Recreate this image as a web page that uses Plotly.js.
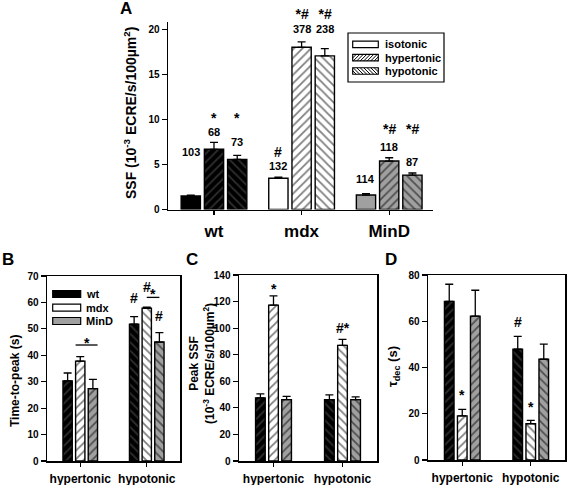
<!DOCTYPE html>
<html><head><meta charset="utf-8">
<script src="https://cdn.plot.ly/plotly-3.0.1.min.js"></script>
<style>html,body{margin:0;padding:0;background:#fff}#chart{width:567px;height:485px}</style>
</head><body><div id="chart"></div>
<script>
// ================= DATA =================
const genotypes = ["wt", "mdx", "MinD"];
const tonicities = ["isotonic", "hypertonic", "hypotonic"];
const conditions = ["hypertonic", "hypotonic"];

// Panel A: SSF (10^-3 ECRE/s/100 µm²), per genotype
const ssfIso = [1.50, 3.47, 1.61];
const ssfIsoErr = [0.10, 0.14, 0.16];
const ssfHyper = [6.70, 18.05, 5.39];
const ssfHyperErr = [0.78, 0.60, 0.37];
const ssfHypo = [5.58, 17.10, 3.83];
const ssfHypoErr = [0.44, 0.80, 0.23];
const nIso = [103, 132, 114];
const nHyper = [68, 378, 118];
const nHypo = [73, 238, 87];
const sigIso = ["", "#", ""];
const sigHyper = ["*", "*#", "*#"];
const sigHypo = ["*", "*#", "*#"];

// Panel B: time-to-peak (s), per condition
const ttpWt = [30.3, 51.8];   const ttpWtErr = [3.0, 2.8];
const ttpMdx = [37.8, 57.8];  const ttpMdxErr = [1.7, 0.4];
const ttpMinD = [27.4, 45.0]; const ttpMinDErr = [3.5, 3.6];
const ttpSigWt = ["", "#"];
const ttpSigMdx = ["", "#"];
const ttpSigMinD = ["", "#"];
const ttpSigMdxVsMinD = ["*", "*"];

// Panel C: peak SSF (10^-3 ECRE/s/100 µm²)
const pkWt = [47.5, 46.2];   const pkWtErr = [3.0, 3.5];
const pkMdx = [117.3, 87.0]; const pkMdxErr = [7.0, 4.5];
const pkMinD = [46.2, 46.2]; const pkMinDErr = [2.4, 2.0];
const pkSigMdx = ["*", "#*"];

// Panel D: tau decay (s)
const tauWt = [68.6, 47.9];   const tauWtErr = [7.4, 5.6];
const tauMdx = [19.1, 15.7];  const tauMdxErr = [2.8, 1.4];
const tauMinD = [62.2, 43.6]; const tauMinDErr = [11.2, 6.5];
const tauSigWt = ["", "#"];
const tauSigMdx = ["*", "*"];

// ================= STYLE / LAYOUT HELPERS =================
const W = 567, H = 485;
const FONT = "Liberation Sans, Arial, Helvetica, sans-serif";
const px = v => v / W;
const py = v => 1 - v / H;
const fillCol = {wt: "#000000", mdx: "#ffffff", MinD: "#a0a0a0"};
const hatchCol = {wt: "#5e5e5e", mdx: "#000000", MinD: "#000000"};
const hatchOf = {isotonic: "", hypertonic: "/", hypotonic: "\\"};

const geo = {
  A: {x: [168, 433], y: [21.7, 209.5]},
  B: {x: [47, 180], y: [276, 461]},
  C: {x: [239, 377], y: [275, 461]},
  D: {x: [428, 565], y: [275, 460]}
};
const domX = g => [px(g.x[0]), px(g.x[1])];
const domY = g => [py(g.y[1]), py(g.y[0])];

function xAxis(g, cats, range, size, boxed, anchor) {
  return {domain: domX(g), anchor: anchor, type: 'category', categoryorder: 'array',
    categoryarray: cats, range: range, showline: true, linecolor: '#000', linewidth: 1.5,
    mirror: boxed, ticks: 'outside', ticklen: 4, tickwidth: 1.2, tickcolor: '#000',
    ticklabelstandoff: 2,
    tickfont: {family: FONT, size: size, color: '#000', weight: 'bold'},
    showgrid: false, zeroline: false, fixedrange: true};
}
function yAxis(g, range, dtick, boxed, anchor) {
  return {domain: domY(g), anchor: anchor, range: range, dtick: dtick, tick0: 0,
    showline: true, linecolor: '#000', linewidth: 1.5, mirror: boxed,
    ticks: 'outside', ticklen: 5, tickwidth: 1.2, tickcolor: '#000',
    tickfont: {family: FONT, size: 10, color: '#000', weight: 'bold'},
    showgrid: false, zeroline: false, fixedrange: true};
}

const PAT = {size: 6, solidity: 0.3};
// one trace per genotype: scalar colours, per-point hatch shape and offset
function barTrace(x, y, err, xa, ya, offset, width, bg, fg, shapes) {
  const marker = {color: bg, line: {color: '#000', width: 1.4},
    pattern: {shape: shapes, bgcolor: bg, fgcolor: fg, fillmode: 'overlay',
      size: PAT.size, solidity: PAT.solidity}};
  return {type: 'bar', x: x, y: y, xaxis: xa, yaxis: ya, offset: offset, width: width,
    marker: marker, showlegend: false, hoverinfo: 'skip',
    error_y: {type: 'data', symmetric: false, array: err, arrayminus: err.map(() => 0),
      color: '#000', thickness: 1.3, width: 4}};
}

function lab(xref, yref, x, y, text, size, shift, anchor) {
  return {xref: xref, yref: yref, x: x, y: y, text: text, showarrow: false,
    xanchor: 'center', yanchor: anchor || 'middle', yshift: shift,
    font: {family: FONT, size: size, color: '#000', weight: 'bold'}};
}
const glyphAdj = t => (t === "*" ? -2.5 : (t.indexOf("*") >= 0 ? -1 : 0));

const traces = [];
const annotations = [];
const shapes = [];

// ---------- Panel A ----------
const wA = 0.22;
const offA = {isotonic: -0.375, hypertonic: -0.11, hypotonic: 0.155};
const seriesA = {
  isotonic: {v: ssfIso, e: ssfIsoErr, n: nIso, s: sigIso},
  hypertonic: {v: ssfHyper, e: ssfHyperErr, n: nHyper, s: sigHyper},
  hypotonic: {v: ssfHypo, e: ssfHypoErr, n: nHypo, s: sigHypo}
};
// label lifts (px above the error-bar tip); stacked = symbol directly on top of the n label
const shiftA = {
  isotonic: {n: [43.4, 10.9, 14.4], s: [0, 25.2, 0], stack: [false, false, false]},
  hypertonic: {n: [10.5, 11.6, 11.0], s: [27.2, 0, 29.4], stack: [false, true, false]},
  hypotonic: {n: [13.0, 18.4, 11.3], s: [40.3, 0, 44.7], stack: [false, true, false]}
};
genotypes.forEach((g, i) => {
  traces.push(barTrace(tonicities.map(() => g), tonicities.map(t => seriesA[t].v[i]),
    tonicities.map(t => seriesA[t].e[i]), 'x', 'y', tonicities.map(t => offA[t]), wA,
    fillCol[g], hatchCol[g], tonicities.map(t => hatchOf[t])));
  tonicities.forEach(t => {
    const d = seriesA[t], sh = shiftA[t];
    const xc = i + offA[t] + wA / 2, top = d.v[i] + d.e[i];
    if (sh.stack[i]) {
      annotations.push(lab('x', 'y', xc, top,
        '<span style="font-size:14px">' + d.s[i] + '</span><br>' + d.n[i], 11, sh.n[i] - 7, 'bottom'));
    } else {
      annotations.push(lab('x', 'y', xc, top, String(d.n[i]), 11, sh.n[i]));
      if (d.s[i]) annotations.push(lab('x', 'y', xc, top, d.s[i], 14, sh.s[i] + glyphAdj(d.s[i])));
    }
  });
});

// ---------- Panels B, C, D ----------
const wS = 0.14;
const offS = {wt: -0.26, mdx: -0.07, MinD: 0.12};
function smallPanel(xa, ya, data) {
  genotypes.forEach(g => {
    const d = data[g];
    traces.push(barTrace(conditions, d.v, d.e, xa, ya, offS[g], wS,
      fillCol[g], hatchCol[g], conditions.map(c => hatchOf[c])));
    if (d.s) conditions.forEach((c, i) => {
      if (!d.s[i]) return;
      const xc = i + offS[g] + wS / 2, top = d.v[i] + d.e[i];
      annotations.push(lab(xa, ya, xc, top, d.s[i], 14, d.sh[i] + glyphAdj(d.s[i])));
    });
  });
}
smallPanel('x2', 'y2', {
  wt: {v: ttpWt, e: ttpWtErr, s: ttpSigWt, sh: [0, 18.4]},
  mdx: {v: ttpMdx, e: ttpMdxErr, s: ttpSigMdx, sh: [0, 20.5]},
  MinD: {v: ttpMinD, e: ttpMinDErr, s: ttpSigMinD, sh: [0, 17.0]}
});
smallPanel('x3', 'y3', {
  wt: {v: pkWt, e: pkWtErr},
  mdx: {v: pkMdx, e: pkMdxErr, s: pkSigMdx, sh: [9.0, 12.7]},
  MinD: {v: pkMinD, e: pkMinDErr}
});
smallPanel('x4', 'y4', {
  wt: {v: tauWt, e: tauWtErr, s: tauSigWt, sh: [0, 14.6]},
  mdx: {v: tauMdx, e: tauMdxErr, s: tauSigMdx, sh: [16.7, 15.5]},
  MinD: {v: tauMinD, e: tauMinDErr}
});

// Panel B bracket comparisons mdx vs MinD
const brk = [
  {x0: 0 + offS.mdx, x1: 0 + offS.MinD + wS, lift: 11.6, star: 2.5},
  {x0: 1 + offS.mdx + wS / 2, x1: 1 + offS.MinD + wS / 2, lift: 9.8, star: 3.0}
];
conditions.forEach((c, i) => {
  const top = Math.max(ttpMdx[i] + ttpMdxErr[i], ttpMinD[i] + ttpMinDErr[i]);
  const b = brk[i];
  shapes.push({type: 'line', xref: 'x2', yref: 'y2', ysizemode: 'pixel', yanchor: top,
    x0: b.x0, x1: b.x1, y0: b.lift, y1: b.lift, line: {color: '#000', width: 1.3}});
  annotations.push(lab('x2', 'y2', (b.x0 + b.x1) / 2, top, ttpSigMdxVsMinD[i], 14, b.lift + b.star));
});

// ---------- manual legends ----------
function hatchPath(x0, x1, yt, yb, dir, sp) {
  const h = yb - yt; let p = "";
  for (let k = x0 - h; k < x1; k += sp) {
    const t0 = Math.max(0, x0 - k), t1 = Math.min(h, x1 - k);
    if (t1 <= t0) continue;
    let ya0, ya1;
    if (dir === "/") { ya0 = yb - t0; ya1 = yb - t1; } else { ya0 = yt + t0; ya1 = yt + t1; }
    p += "M" + px(k + t0).toFixed(5) + "," + py(ya0).toFixed(5) +
         "L" + px(k + t1).toFixed(5) + "," + py(ya1).toFixed(5);
  }
  return p;
}
function legend(names, fills, hatch, hatchColors, sx0, sx1, rows, sh, tx) {
  names.forEach((nm, i) => {
    const yt = rows[i] - sh / 2, yb = rows[i] + sh / 2;
    shapes.push({type: 'rect', xref: 'paper', yref: 'paper', x0: px(sx0), x1: px(sx1),
      y0: py(yb), y1: py(yt), fillcolor: fills[i], line: {color: '#000', width: 1.2}});
    if (hatch[i]) shapes.push({type: 'path', xref: 'paper', yref: 'paper',
      path: hatchPath(sx0, sx1, yt, yb, hatch[i], 3.5), line: {color: hatchColors[i], width: 1}});
    annotations.push({xref: 'paper', yref: 'paper', x: px(tx), y: py(rows[i]), text: nm,
      showarrow: false, xanchor: 'left', yanchor: 'middle',
      font: {family: FONT, size: 11, color: '#000', weight: 'bold'}});
  });
}
shapes.push({type: 'rect', xref: 'paper', yref: 'paper', x0: px(348), x1: px(444),
  y0: py(82), y1: py(33), fillcolor: '#fff', line: {color: '#000', width: 1.2}});
legend(tonicities, tonicities.map(() => '#fff'), tonicities.map(t => hatchOf[t]),
  tonicities.map(() => '#000'), 352.7, 378.3, [44.3, 57.7, 71], 6.5, 383);
legend(genotypes, genotypes.map(g => fillCol[g]), genotypes.map(() => ""),
  genotypes.map(g => hatchCol[g]), 52.7, 80.7, [294, 307.7, 321], 7, 84);

// ---------- titles & panel letters ----------
function txt(x, y, text, size, angle) {
  return {xref: 'paper', yref: 'paper', x: px(x), y: py(y), text: text, showarrow: false,
    xanchor: 'center', yanchor: 'middle', textangle: angle || 0,
    font: {family: FONT, size: size, color: '#000', weight: 'bold'}};
}
annotations.push(txt(126, 8, "A", 17));
annotations.push(txt(7.5, 259, "B", 17));
annotations.push(txt(191.5, 259, "C", 17));
annotations.push(txt(391, 259, "D", 17));
annotations.push(txt(130, 113, "SSF (10<sup>-3</sup> ECRE/s/100µm<sup>2</sup>)", 14, -90));
annotations.push(txt(15, 381, "Time-to-peak (s)", 12, -90));
annotations.push(txt(202, 364, "Peak SSF<br>(10<sup>-3</sup> ECRE/s/100µm<sup>2</sup>)", 12, -90));
annotations.push(txt(393, 367, "τ<sub>dec</sub> (s)", 13, -90));

const layout = {
  width: W, height: H, margin: {l: 0, r: 0, t: 0, b: 0},
  paper_bgcolor: '#fff', plot_bgcolor: 'rgba(0,0,0,0)', showlegend: false,
  barmode: 'overlay',
  xaxis: xAxis(geo.A, genotypes, [-0.525, 2.5], 17, false, 'y'),
  yaxis: yAxis(geo.A, [0, 20.9], 5, false, 'x'),
  xaxis2: xAxis(geo.B, conditions, [-0.5, 1.5], 12, true, 'y2'),
  yaxis2: yAxis(geo.B, [0, 70], 10, true, 'x2'),
  xaxis3: xAxis(geo.C, conditions, [-0.5, 1.5], 12, true, 'y3'),
  yaxis3: yAxis(geo.C, [0, 140], 20, true, 'x3'),
  xaxis4: xAxis(geo.D, conditions, [-0.5, 1.5], 12, true, 'y4'),
  yaxis4: yAxis(geo.D, [0, 80], 20, true, 'x4'),
  annotations: annotations, shapes: shapes
};
Plotly.newPlot('chart', traces, layout, {displayModeBar: false, staticPlot: true});
</script></body></html>
